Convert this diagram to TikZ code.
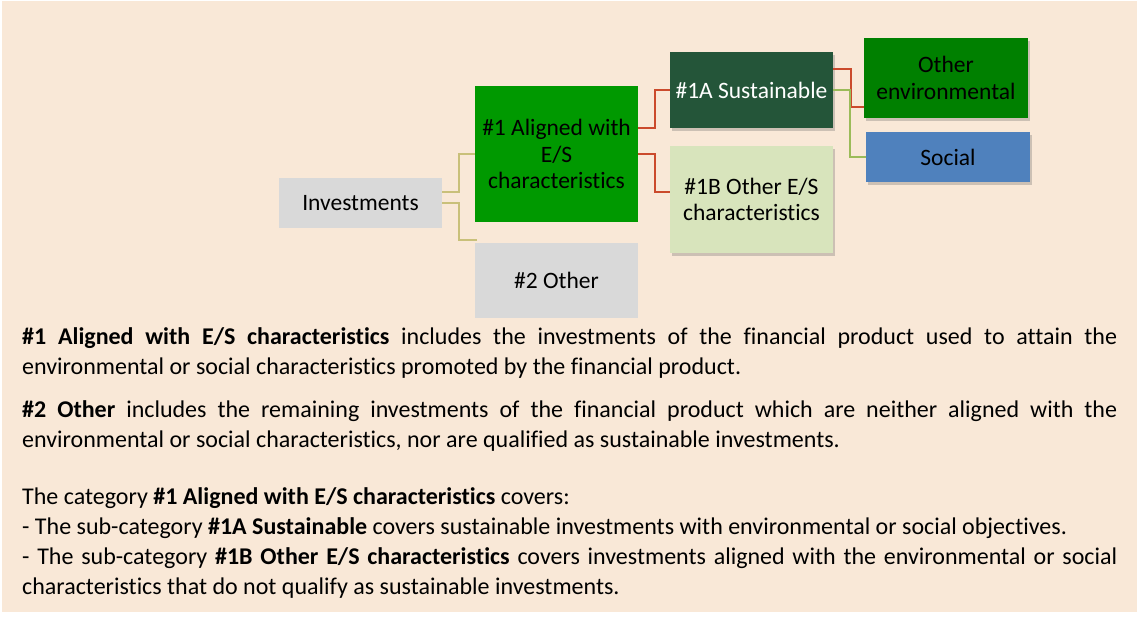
\documentclass[tikz,border=0pt]{standalone}
\usepackage{fontspec}
\setmainfont[Ligatures={NoCommon}]{Carlito}
\usetikzlibrary{shadows,calc}
\definecolor{bg}{HTML}{F9E8D7}
\definecolor{greybox}{HTML}{D9D9D9}
\definecolor{brightgreen}{HTML}{009900}
\definecolor{darkgreen}{HTML}{245539}
\definecolor{midgreen}{HTML}{008000}
\definecolor{lightgreen}{HTML}{D8E4BC}
\definecolor{socialblue}{HTML}{4F81BD}
\definecolor{olive}{HTML}{C9C07A}
\definecolor{redline}{HTML}{CB4A2C}
\definecolor{greenline}{HTML}{9BBB59}
\tikzset{
  box/.style={draw=none, inner sep=2pt, align=center, font=\fontsize{23.5}{26.5}\selectfont},
  shadowed/.style={drop shadow={shadow xshift=2pt, shadow yshift=-3pt, opacity=0.3, fill=black!60}},
  olink/.style={draw=olive, line width=2pt},
  rlink/.style={draw=redline, line width=2pt},
  glink/.style={draw=greenline, line width=2pt},
  para/.style={anchor=north west, inner sep=0pt, text width=1095pt, align=justify, font=\fontsize{24}{30}\selectfont}
}
\begin{document}
\begin{tikzpicture}[x=1pt,y=-1pt]
\useasboundingbox (0,0) rectangle (1137,618);
\fill[bg] (2,1) rectangle (1137,612);
% boxes
\node[box, fill=greybox, minimum width=163pt, minimum height=50pt] (inv) at (360.5,203) {Investments};
\node[box, fill=brightgreen, minimum width=163pt, minimum height=136pt] (a1) at (556.5,154) {\#1 Aligned with\\E/S\\characteristics};
\node[box, fill=greybox, minimum width=163pt, minimum height=75pt] (oth) at (556.5,280.5) {\#2 Other};
\node[box, shadowed, fill=darkgreen, text=white, minimum width=163pt, minimum height=76pt] (s1a) at (751.5,90) {\#1A Sustainable};
\node[box, shadowed, fill=lightgreen, minimum width=163pt, minimum height=107pt] (s1b) at (751.5,199.5) {\#1B Other E/S\\characteristics};
\node[box, shadowed, fill=midgreen, minimum width=164pt, minimum height=80pt] (oenv) at (946,78) {Other\\environmental};
\node[box, shadowed, fill=socialblue, minimum width=164pt, minimum height=50pt] (soc) at (948,157) {Social};
% connectors
\draw[olink] ([yshift=11pt]inv.east) -- ++(17,0) |- (a1.west);
\draw[olink] (inv.east) -- ++(17,0) |- ([shift={(2pt,3pt)}]oth.north west);
\draw[rlink] ([yshift=26pt]a1.east) -- ++(17,0) |- (s1a.west);
\draw[rlink] (a1.east) -- ++(17,0) |- ([yshift=7.5pt]s1b.west);
\draw[rlink] ([yshift=21pt]s1a.east) -- ++(18,0) |- ([yshift=-29pt]oenv.west);
\draw[glink] (s1a.east) -- ++(17,0) |- (soc.west);
% text
\node[para] (p1) at (22,327) {\textbf{\#1 Aligned with E/S characteristics} includes the investments of the financial product used to attain the\linebreak environmental or social characteristics promoted by the financial product.};
\node[para] (p2) at (22,400) {\textbf{\#2 Other} includes the remaining investments of the financial product which are neither aligned with the\linebreak environmental or social characteristics, nor are qualified as sustainable investments.};
\node[para] (p3) at (22,487) {The category \textbf{\#1 Aligned with E/S characteristics} covers:\\
- The sub-category \textbf{\#1A Sustainable} covers sustainable investments with environmental or social objectives.\\
- The sub-category \textbf{\#1B Other E/S characteristics} covers investments aligned with the environmental or social\linebreak characteristics that do not qualify as sustainable investments.};
\end{tikzpicture}
\end{document}
